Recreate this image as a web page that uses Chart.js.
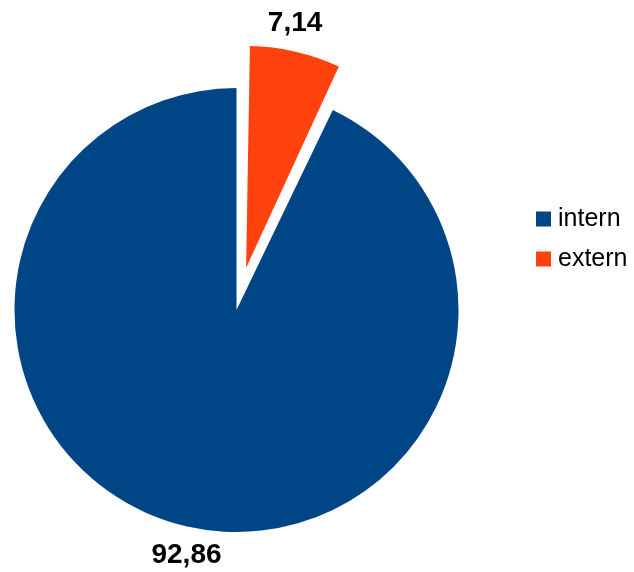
<!DOCTYPE html>
<html>
<head>
<meta charset="utf-8">
<script src="https://cdn.jsdelivr.net/npm/chart.js@4/dist/chart.umd.min.js"></script>
<style>
  html, body { margin: 0; padding: 0; background: #ffffff; }
  #wrap { width: 634px; height: 572px; position: relative; }
</style>
</head>
<body>
<div id="wrap"><canvas id="chart" width="634" height="572"></canvas></div>
<script>
// Anteile intern / extern in Prozent
const categories = ['intern', 'extern'];
const shares = [92.86, 7.14];
const sliceColors = ['#004586', '#ff420e'];
// how far each slice is pulled out of the pie, in pixels
const explode = [0, 43];

const fmt = v => v.toFixed(2).replace('.', ',');

// Chart.js widens a pulled-out arc a little; keep it at the pie's radius
const keepRadius = {
  id: 'keepRadius',
  beforeDatasetsDraw(chart) {
    const meta = chart.getDatasetMeta(0);
    const base = meta.controller.outerRadius;
    meta.data.forEach((arc, i) => {
      const shift = explode[i];
      if (!shift) return;
      const circ = arc.endAngle - arc.startAngle;
      const fix = 1 - Math.sin(Math.min(Math.PI, circ));
      arc.outerRadius = base - shift * fix;
    });
  }
};

// Values written just outside each slice
const valueLabels = {
  id: 'valueLabels',
  afterDatasetsDraw(chart) {
    const ctx = chart.ctx;
    const meta = chart.getDatasetMeta(0);
    ctx.save();
    ctx.font = 'bold 28px "Liberation Sans", Arial, sans-serif';
    ctx.fillStyle = '#000000';
    ctx.textAlign = 'center';
    ctx.textBaseline = 'middle';
    meta.data.forEach((arc, i) => {
      const p = arc.getProps(['x', 'y', 'startAngle', 'endAngle'], true);
      const mid = (p.startAngle + p.endAngle) / 2 - 0.023;
      const d = explode[i] + 250;
      ctx.fillText(fmt(shares[i]), p.x + Math.cos(mid) * d, p.y + Math.sin(mid) * d);
    });
    ctx.restore();
  }
};

// Legend column to the right of the pie
const sideLegend = {
  id: 'sideLegend',
  afterDraw(chart) {
    const ctx = chart.ctx;
    ctx.save();
    ctx.font = '25px "Liberation Sans", Arial, sans-serif';
    ctx.textAlign = 'left';
    ctx.textBaseline = 'middle';
    categories.forEach((name, i) => {
      const cy = 219 + i * 40;
      ctx.fillStyle = sliceColors[i];
      ctx.fillRect(536, cy - 7.5, 15, 15);
      ctx.fillStyle = '#000000';
      ctx.fillText(name, 558, cy);
    });
    ctx.restore();
  }
};

new Chart(document.getElementById('chart'), {
  type: 'pie',
  data: {
    labels: categories,
    datasets: [{
      data: shares,
      backgroundColor: sliceColors,
      // Chart.js shifts an arc by a quarter of its offset
      offset: explode.map(v => v * 4),
      borderWidth: 0
    }]
  },
  options: {
    responsive: false,
    animation: false,
    events: [],
    rotation: shares[1] / 100 * 360,
    radius: 222,
    layout: { padding: { left: 0, right: 161, top: 48, bottom: 0 } },
    plugins: {
      legend: { display: false },
      tooltip: { enabled: false }
    }
  },
  plugins: [keepRadius, valueLabels, sideLegend]
});
</script>
</body>
</html>
